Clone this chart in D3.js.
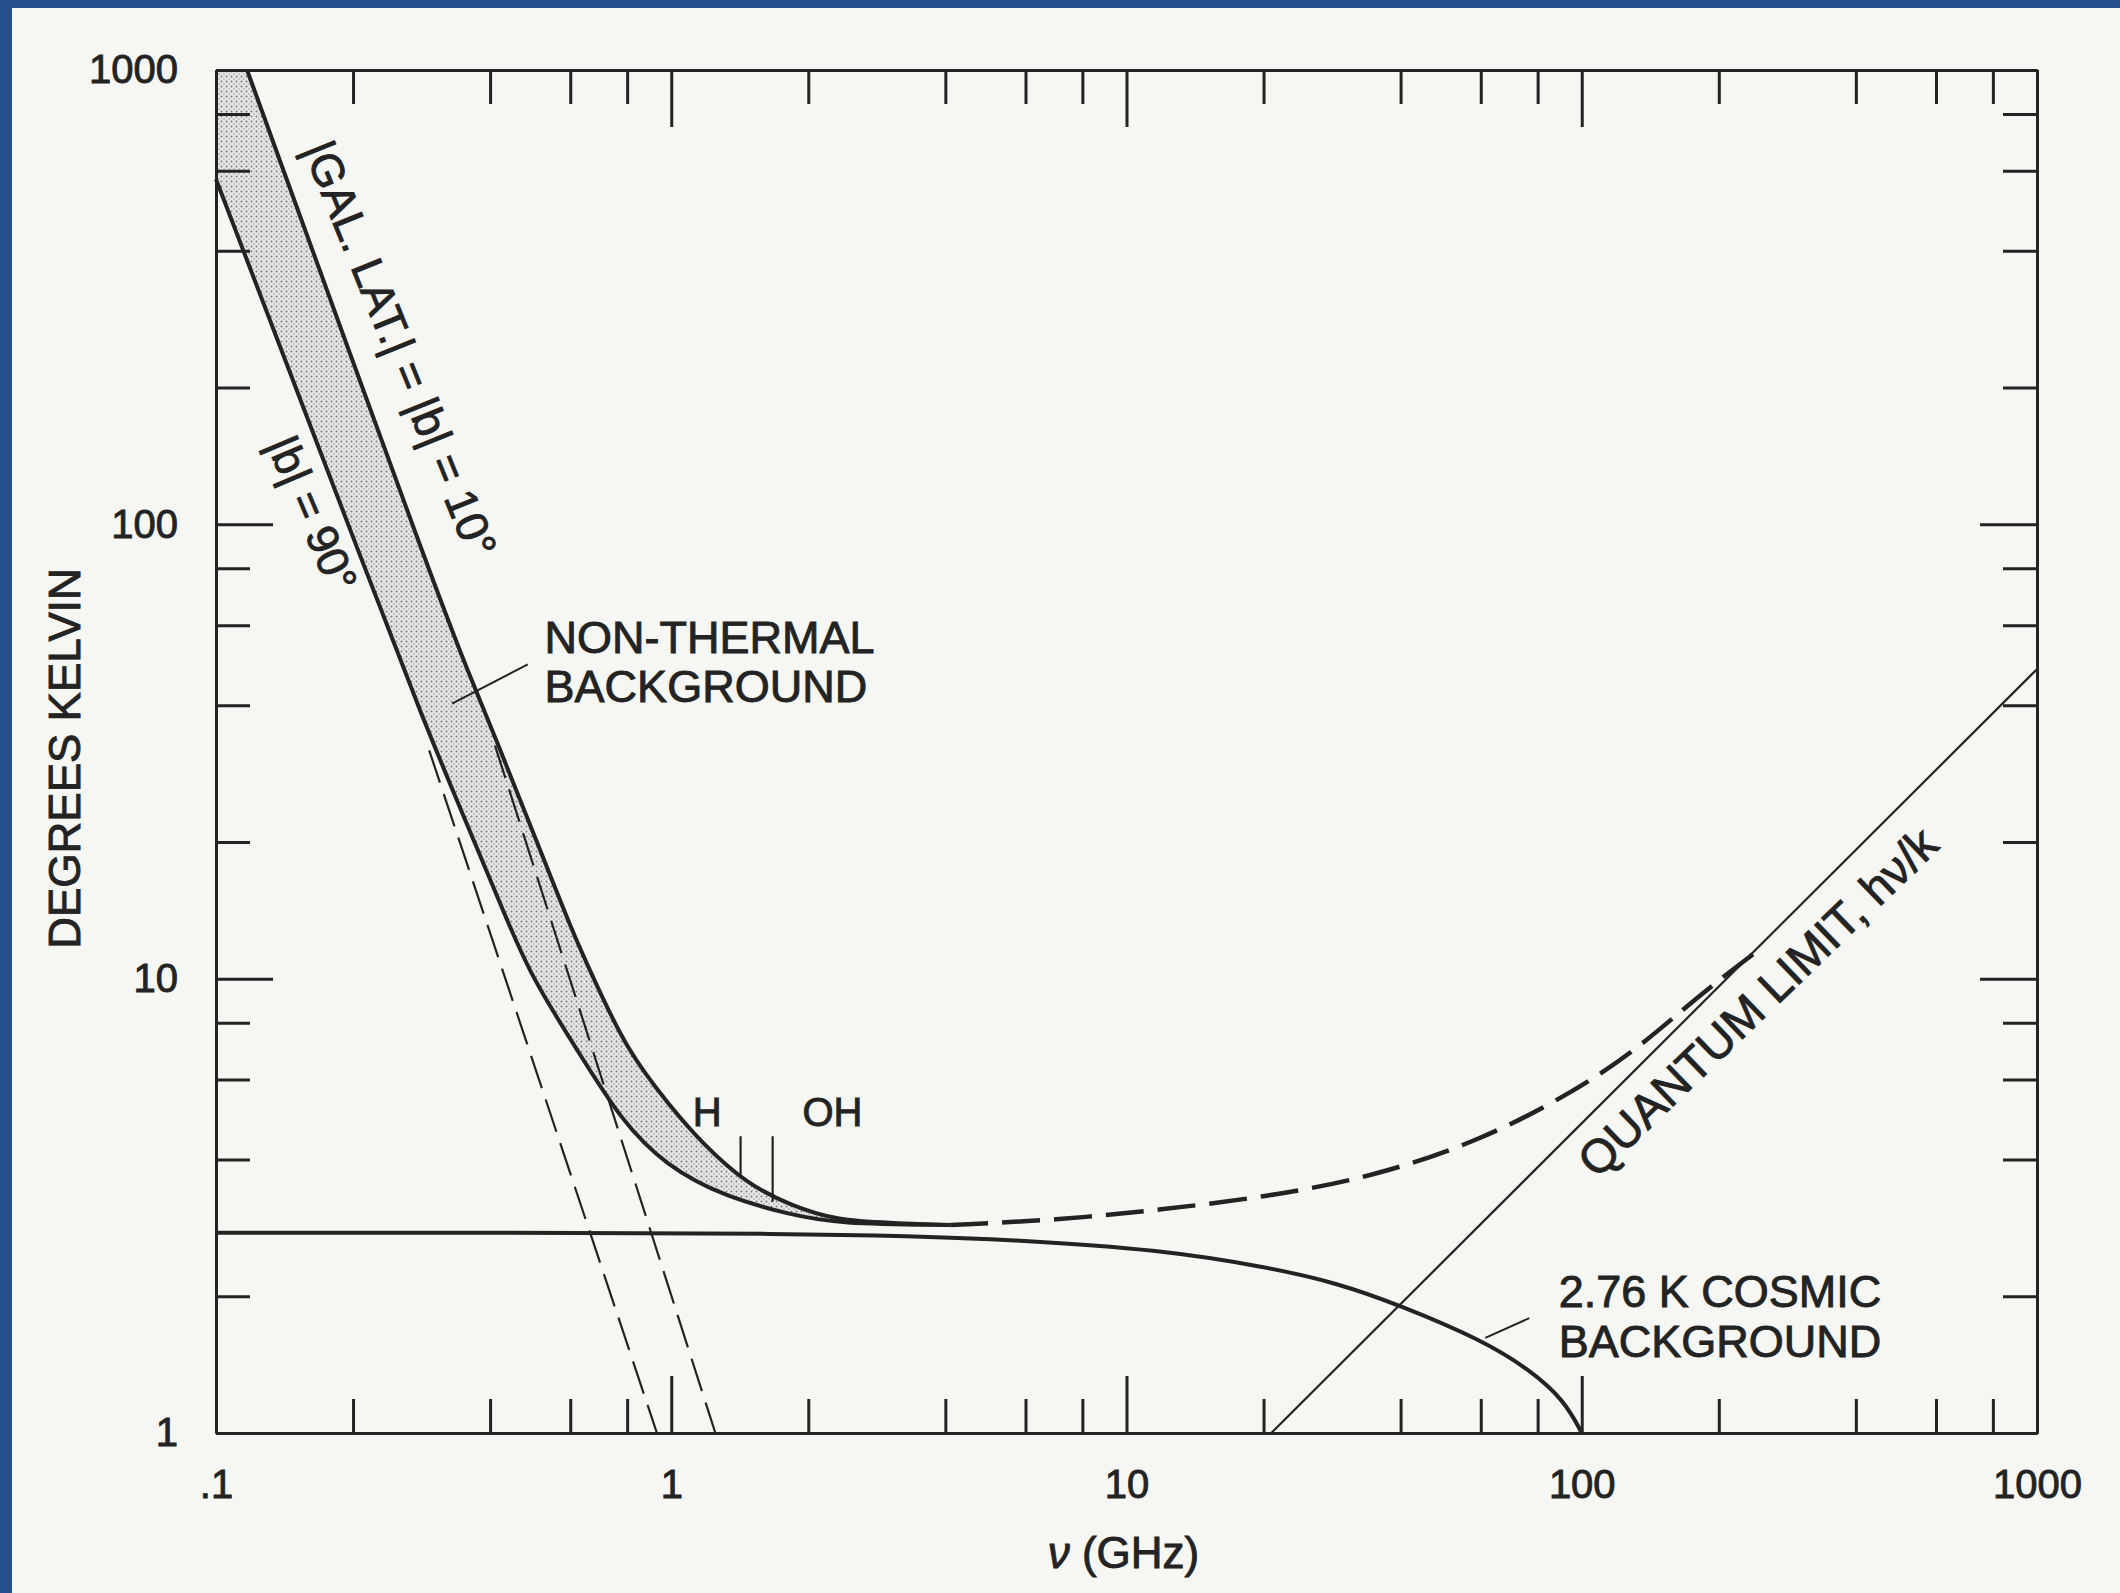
<!DOCTYPE html>
<html>
<head>
<meta charset="utf-8">
<script src="https://cdn.jsdelivr.net/npm/d3@7"></script>
<style>
  body { margin: 0; background: #f6f6f3; }
</style>
</head>
<body>
<svg id="chart"></svg>
<script>
// sky background temperature vs frequency (log-log)
// each point is [nu (GHz), T (K)]

const nuTicksMajor = [0.1, 1, 10, 100, 1000];
const nuTickLabels = ['.1', '1', '10', '100', '1000'];
const nuTicksMinor = [0.2, 0.4, 0.6, 0.8, 2, 4, 6, 8, 20, 40, 60, 80, 200, 400, 600, 800];
const tTicksMajor = [1, 10, 100, 1000];
const tTickLabels = ['1', '10', '100', '1000'];
const tTicksMinor = [2, 4, 6, 8, 20, 40, 60, 80, 200, 400, 600, 800];

// non-thermal (galactic) background, |b| = 10 deg and |b| = 90 deg
const gal10 = [[0.117, 1000], [0.309, 68.4], [0.363, 45.8], [0.416, 32.9], [0.505, 20.2], [0.612, 12.4],
  [0.667, 10.3], [0.796, 6.98], [1.0, 5.2], [1.17, 4.34], [1.46, 3.54], [1.84, 3.16], [2.31, 2.94],
  [3.0, 2.9], [4.1, 2.87]];
const gal90 = [[0.1, 575], [0.226, 68], [0.282, 38.3], [0.342, 24.0], [0.416, 15.1], [0.486, 10.3],
  [0.621, 6.98], [0.776, 4.87], [0.975, 3.87], [1.31, 3.31], [1.84, 3.02], [2.31, 2.89], [4.1, 2.87]];
// dashed straight asymptotes of the two curves
const asym90 = [[0.294, 31.8], [0.93, 1]];
const asym10 = [[0.41, 32.6], [1.25, 1]];
// 2.76 K cosmic background
const cmb = [[0.1, 2.76], [2.4, 2.76], [5.87, 2.66], [11.9, 2.53], [20.3, 2.32], [29, 2.14], [39.9, 1.91],
  [60.5, 1.60], [76.7, 1.38], [91.6, 1.18], [100, 1.0]];
// long dashed total (cosmic + quantum)
const longDash = [[4.1, 2.87], [7.0, 2.94], [11.9, 3.1], [20.3, 3.31], [34.7, 3.66], [60, 4.4], [95, 5.6],
  [130, 6.9], [170, 8.7], [210, 10.3], [240, 11.4]];
// quantum limit h nu / k
const quantum = [[20.8, 1], [1000, 48]];

// H and OH line markers
const specLines = [
  { name: 'H', nu: 1.42, lo: 3.7, hi: 4.5, labelNu: 1.2, labelT: 4.75 },
  { name: 'OH', nu: 1.67, lo: 3.23, hi: 4.5, labelNu: 2.26, labelT: 4.75 }
];

const nonThermalText = ['NON-THERMAL', 'BACKGROUND'];
const nonThermalAt = [0.527, 52.2];
const nonThermalLeader = [[0.484, 49.2], [0.33, 40.3]];
const cosmicText = ['2.76 K COSMIC', 'BACKGROUND'];
const cosmicAt = [89, 1.895];
const cosmicLeader = [[76.7, 1.79], [61.4, 1.62]];

const W = 2120, H = 1593;
const M = { left: 216, right: 2037, top: 70, bottom: 1433 };
const FONT = '"Liberation Sans", Arial, Helvetica, sans-serif';
const INK = '#232323';

const svg = d3.select('#chart').attr('width', W).attr('height', H);

// blue scan border on top and left, paper everywhere else
svg.append('rect').attr('width', W).attr('height', H).attr('fill', '#27508c');
svg.append('rect').attr('x', 12).attr('y', 8).attr('width', W - 12).attr('height', H - 8).attr('fill', '#f6f6f3');

const x = d3.scaleLog().domain([0.1, 1000]).range([M.left, M.right]);
const y = d3.scaleLog().domain([1, 1000]).range([M.bottom, M.top]);

const defs = svg.append('defs');
const pat = defs.append('pattern')
  .attr('id', 'stipple')
  .attr('patternUnits', 'userSpaceOnUse')
  .attr('width', 5).attr('height', 5);
pat.append('rect').attr('width', 5).attr('height', 5).attr('fill', '#e6e6e4');
pat.append('circle').attr('cx', 1.5).attr('cy', 1.5).attr('r', 1).attr('fill', '#7c7c7c');
pat.append('circle').attr('cx', 4).attr('cy', 4).attr('r', 0.8).attr('fill', '#9c9c9c');

const line = d3.line().x(d => x(d[0])).y(d => y(d[1])).curve(d3.curveBasis);
const straight = d3.line().x(d => x(d[0])).y(d => y(d[1]));
const above = d3.area().x(d => x(d[0])).y0(M.top).y1(d => y(d[1])).curve(d3.curveBasis);

// shaded band between the two galactic curves
const mask = defs.append('mask').attr('id', 'band');
mask.append('path').attr('d', above(gal90)).attr('fill', 'white');
mask.append('path').attr('d', above(gal10)).attr('fill', 'black')
  .attr('stroke', 'black').attr('stroke-width', 3);
svg.append('rect')
  .attr('x', M.left).attr('y', M.top)
  .attr('width', M.right - M.left).attr('height', M.bottom - M.top)
  .attr('fill', 'url(#stipple)')
  .attr('mask', 'url(#band)');

const plot = svg.append('g').attr('fill', 'none').attr('stroke', INK).attr('stroke-linecap', 'butt');

[asym90, asym10].forEach(d => {
  plot.append('path').attr('d', straight(d)).attr('stroke-width', 2.2).attr('stroke-dasharray', '34,12');
});
plot.append('path').attr('d', straight(quantum)).attr('stroke-width', 2.2);
plot.append('path').attr('d', line(cmb)).attr('stroke-width', 4);
plot.append('path').attr('d', line(gal90)).attr('stroke-width', 4);
plot.append('path').attr('d', line(gal10)).attr('stroke-width', 4);
plot.append('path').attr('d', line(longDash)).attr('stroke-width', 4.5).attr('stroke-dasharray', '38,14');

specLines.forEach(s => {
  plot.append('line')
    .attr('x1', x(s.nu)).attr('x2', x(s.nu))
    .attr('y1', y(s.lo)).attr('y2', y(s.hi))
    .attr('stroke-width', 2.2);
});
plot.append('path').attr('d', straight(nonThermalLeader)).attr('stroke-width', 2);
plot.append('path').attr('d', straight(cosmicLeader)).attr('stroke-width', 2);

// axes: frame with inward ticks on all four sides
function styleAxis(g) {
  g.attr('font-family', FONT).attr('font-size', 40);
  g.select('.domain').attr('stroke', INK).attr('stroke-width', 3);
  g.selectAll('.tick line').attr('stroke', INK).attr('stroke-width', 3);
  g.selectAll('.tick text').attr('fill', INK).attr('stroke', INK).attr('stroke-width', 0.9);
}

const axes = [
  { gen: d3.axisBottom(x), at: [0, M.bottom], major: nuTicksMajor, minor: nuTicksMinor, labels: nuTickLabels, pad: 37 },
  { gen: d3.axisTop(x), at: [0, M.top], major: nuTicksMajor, minor: nuTicksMinor, labels: null },
  { gen: d3.axisLeft(y), at: [M.left, 0], major: tTicksMajor, minor: tTicksMinor, labels: tTickLabels, pad: 38 },
  { gen: d3.axisRight(y), at: [M.right, 0], major: tTicksMajor, minor: tTicksMinor, labels: null }
];
axes.forEach(a => {
  svg.append('g')
    .attr('transform', `translate(${a.at[0]},${a.at[1]})`)
    .call(a.gen.tickValues(a.minor).tickFormat('').tickSizeInner(-34).tickSizeOuter(0))
    .call(styleAxis);
  svg.append('g')
    .attr('transform', `translate(${a.at[0]},${a.at[1]})`)
    .call(a.gen.tickValues(a.major)
      .tickFormat((d, i) => a.labels ? a.labels[i] : '')
      .tickSizeInner(-57).tickSizeOuter(0).tickPadding(a.pad || 3))
    .call(styleAxis);
});

// annotations
const text = svg.append('g')
  .attr('font-family', FONT)
  .attr('fill', INK)
  .attr('stroke', INK)
  .attr('stroke-width', 0.9);

text.append('text')
  .attr('transform', `translate(${x(0.155)},${y(670)}) rotate(68)`)
  .attr('font-size', 45)
  .text('|GAL. LAT.| = |b| = 10°');

text.append('text')
  .attr('transform', `translate(${x(0.129)},${y(150)}) rotate(67)`)
  .attr('font-size', 44)
  .text('|b| = 90°');

text.append('text')
  .attr('transform', `translate(${x(108)},${y(3.61)}) rotate(-44)`)
  .attr('font-size', 47)
  .text('QUANTUM LIMIT, hν/k');

nonThermalText.forEach((t, i) => {
  text.append('text')
    .attr('x', x(nonThermalAt[0])).attr('y', y(nonThermalAt[1]) + i * 49)
    .attr('font-size', 45)
    .text(t);
});
cosmicText.forEach((t, i) => {
  text.append('text')
    .attr('x', x(cosmicAt[0])).attr('y', y(cosmicAt[1]) + i * 50)
    .attr('font-size', 45)
    .text(t);
});
specLines.forEach(s => {
  text.append('text')
    .attr('x', x(s.labelNu)).attr('y', y(s.labelT))
    .attr('font-size', 40)
    .attr('text-anchor', 'middle')
    .text(s.name);
});

// axis titles
text.append('text')
  .attr('transform', `translate(80,${(M.top + M.bottom) / 2 + 7}) rotate(-90)`)
  .attr('font-size', 44)
  .attr('text-anchor', 'middle')
  .text('DEGREES KELVIN');

const xt = text.append('text')
  .attr('x', x(10) - 3).attr('y', M.bottom + 135)
  .attr('font-size', 44)
  .attr('text-anchor', 'middle');
xt.append('tspan').attr('font-style', 'italic').text('ν');
xt.append('tspan').text(' (GHz)');
</script>
</body>
</html>
